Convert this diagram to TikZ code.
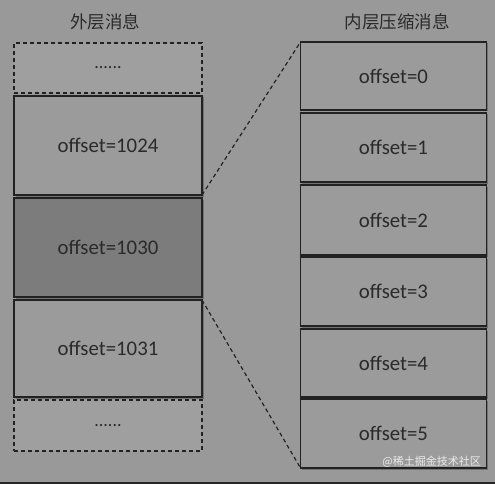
\documentclass[tikz,border=0pt]{standalone}
\usepackage{fontspec}
\setmainfont{Carlito}
\newfontfamily\cjk{Noto Sans CJK SC}
\usetikzlibrary{shadows}
\definecolor{bgc}{HTML}{999999}
\definecolor{boxc}{HTML}{9B9B9B}
\definecolor{darkc}{HTML}{7C7C7C}
\definecolor{linec}{HTML}{222222}
\definecolor{txtc}{HTML}{2A2A2A}
\tikzset{
  msgbox/.style={draw=linec, line width=1.4pt, fill=boxc, inner sep=0pt, outer sep=0pt,
    text=txtc, font=\fontsize{20.8}{22}\selectfont,
    drop shadow={shadow xshift=1.5pt, shadow yshift=-1.5pt, opacity=0.25, fill=black}},
  outerbox/.style={msgbox, minimum width=188pt},
  innerbox/.style={msgbox, minimum width=186pt},
  dotbox/.style={draw=linec, line width=1.2pt, dash pattern=on 4pt off 3pt, fill=boxc!96!white,
    inner sep=0pt, outer sep=0pt, minimum width=188pt, text=txtc, font=\fontsize{18}{20}\selectfont},
  title/.style={text=txtc, font=\cjk\fontsize{17.5}{19}\selectfont},
  link/.style={draw=linec, line width=1.2pt, dash pattern=on 4pt off 3pt},
  wmark/.style={text=white!80!bgc, font=\cjk\fontsize{11}{12}\selectfont, inner sep=0pt}
}
\begin{document}
\begin{tikzpicture}[x=1pt,y=-1pt]
\fill[bgc] (0,0) rectangle (495,484);
\fill[black!85] (0,482) rectangle (495,484);
\useasboundingbox (0,0) rectangle (495,484);

\node[title] (t1) at (105,22) {外层消息};
\node[title] (t2) at (397,22) {内层压缩消息};

\node[dotbox, minimum height=50pt] (d1) at (108,68) {......};
\node[outerbox, minimum height=99pt] (o1024) at (108,145.5) {offset=1024};
\node[outerbox, minimum height=99pt, fill=darkc] (o1030) at (108,247.5) {offset=1030};
\node[outerbox, minimum height=97pt] (o1031) at (108,348.5) {offset=1031};
\node[dotbox, minimum height=51pt] (d2) at (108,425.5) {......};

\node[innerbox, minimum height=68pt] (i0) at (393.5,76) {offset=0};
\node[innerbox, minimum height=69pt] (i1) at (393.5,147.5) {offset=1};
\node[innerbox, minimum height=70pt] (i2) at (393.5,220) {offset=2};
\node[innerbox, minimum height=69pt] (i3) at (393.5,291.5) {offset=3};
\node[innerbox, minimum height=68pt] (i4) at (393.5,363) {offset=4};
\node[innerbox, minimum height=69pt] (i5) at (393.5,433.5) {offset=5};

\draw[link] (o1024.south east) -- (i0.north west);
\draw[link] (o1031.north east) -- (i5.south west);

\node[wmark, anchor=east] (wm) at (481,462) {@稀土掘金技术社区};
\end{tikzpicture}
\end{document}
